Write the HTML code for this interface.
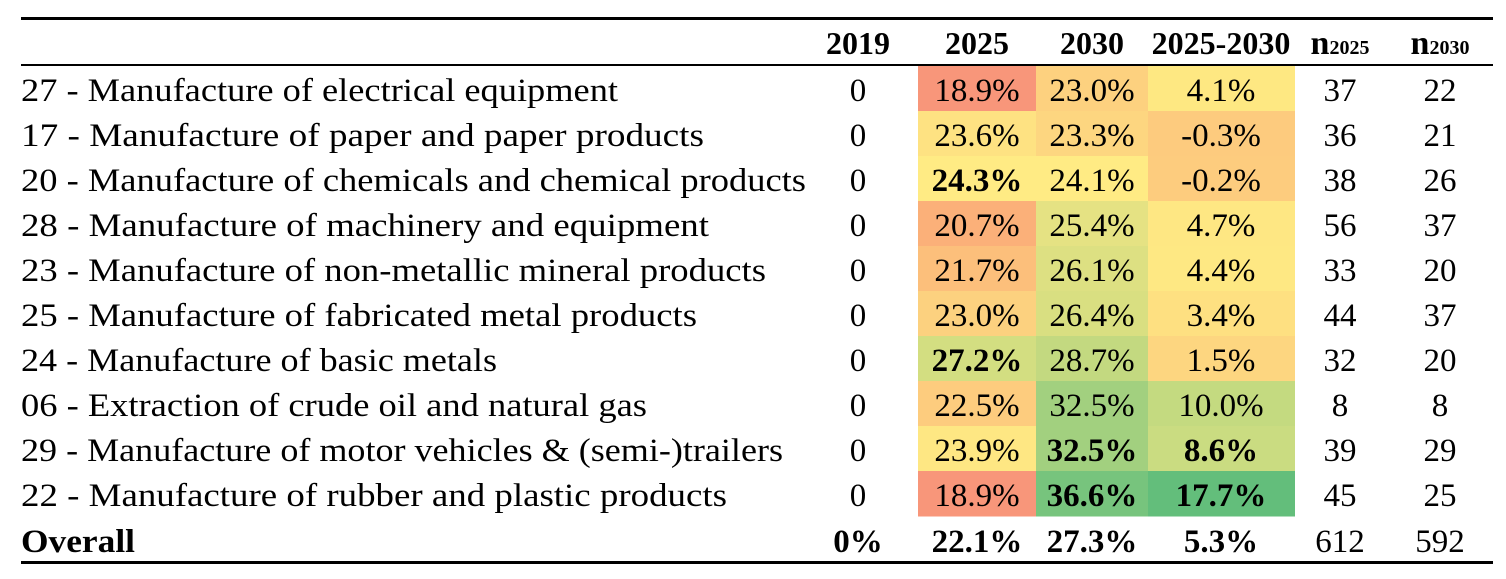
<!DOCTYPE html>
<html><head><meta charset="utf-8"><style>
html,body{margin:0;padding:0;background:#fff;}
svg{display:block;font-family:"Liberation Serif",serif;}
</style></head><body>
<svg id="tbl" width="1506" height="579" viewBox="0 0 1506 579" xmlns="http://www.w3.org/2000/svg"></svg>
<script>
const sectors=["27 - Manufacture of electrical equipment","17 - Manufacture of paper and paper products","20 - Manufacture of chemicals and chemical products","28 - Manufacture of machinery and equipment","23 - Manufacture of non-metallic mineral products","25 - Manufacture of fabricated metal products","24 - Manufacture of basic metals","06 - Extraction of crude oil and natural gas","29 - Manufacture of motor vehicles & (semi-)trailers","22 - Manufacture of rubber and plastic products"];
const v2019=[0,0,0,0,0,0,0,0,0,0];
const v2025=[18.9,23.6,24.3,20.7,21.7,23.0,27.2,22.5,23.9,18.9];
const v2030=[23.0,23.3,24.1,25.4,26.1,26.4,28.7,32.5,32.5,36.6];
const vDiff=[4.1,-0.3,-0.2,4.7,4.4,3.4,1.5,10.0,8.6,17.7];
const n2025=[37,36,38,56,33,44,32,8,39,45];
const n2030=[22,21,26,37,20,37,20,8,29,25];
const bold2025=[false,false,true,false,false,false,true,false,false,false];
const bold2030=[false,false,false,false,false,false,false,false,true,true];
const boldDiff=[false,false,false,false,false,false,false,false,true,true];
const overall=["0%","22.1%","27.3%","5.3%","612","592"];
const c2025=["#F8967A","#FEE282","#FFEB84","#FBB079","#FCBF7B","#FCD17F","#D3DE81","#FDCC7E","#FEE783","#F8967A"];
const c2030=["#FDD17F","#FDD680","#FFEB84","#E5E283","#DDE082","#D9DF81","#C3D980","#A2D07F","#A2D07F","#77C47D"];
const cDiff=["#FEE882","#FDCB7E","#FDCC7E","#FEE783","#FEE883","#FEE081","#FDD680","#C4DA80","#CADC81","#63BE7B"];
// label right edges (layout)
const labelEnd=[618,704,806,709,766,697,497,647,783,727];

const svg=document.getElementById('tbl');
const NS="http://www.w3.org/2000/svg";
const rowTop=i=>66+45*i, rowH=45;
const colX={c2019:858,c2025:977,c2030:1092,cDiff:1221,n25:1340,n30:1440};
function txt(x,y,s,anchor,bold,size){
  const t=document.createElementNS(NS,'text');
  t.setAttribute('x',x);t.setAttribute('y',y);
  t.setAttribute('text-anchor',anchor);
  t.setAttribute('font-size',size||34);
  if(bold)t.setAttribute('font-weight','bold');
  t.textContent=s;svg.appendChild(t);return t;
}
function rect(x,y,w,h,f){
  const r=document.createElementNS(NS,'rect');
  r.setAttribute('x',x);r.setAttribute('y',y);r.setAttribute('width',w);r.setAttribute('height',h);r.setAttribute('fill',f);
  svg.appendChild(r);return r;
}
let r;
r=rect(21,17,1472,3,'#000');


r=rect(21,64,1472,2,'#000');


r=rect(21,561,1472,3,'#000');


const hy=54, NF=33;
let t;
t=txt(colX.c2019,hy,"2019",'middle',true,32);


t=txt(colX.c2025,hy,"2025",'middle',true,32);


t=txt(colX.c2030,hy,"2030",'middle',true,32);


t=txt(colX.cDiff,hy,"2025-2030",'middle',true,32);


[["n25","2025"],["n30","2030"]].forEach(([k,y])=>{
  const tt=document.createElementNS(NS,'text');
  tt.setAttribute('x',colX[k]);tt.setAttribute('y',hy);tt.setAttribute('text-anchor','middle');
  tt.setAttribute('font-weight','bold');tt.setAttribute('font-size',34);
  
  
  const a=document.createElementNS(NS,'tspan');a.textContent='n';
  const b=document.createElementNS(NS,'tspan');b.setAttribute('font-size',20);b.textContent=y;
  tt.appendChild(a);tt.appendChild(b);svg.appendChild(tt);
});
sectors.forEach((s,i)=>{
  const y=rowTop(i), by=y+35;
  let c;
  c=rect(918,y,118,rowH+0.5,c2025[i]);
  
  
  c=rect(1036,y,112,rowH+0.5,c2030[i]);
  
  
  c=rect(1148,y,147,rowH+0.5,cDiff[i]);
  
  
  const lab=txt(21,by,s,'start',false,33);
  lab.setAttribute('textLength', labelEnd[i]-21);
  lab.setAttribute('lengthAdjust','spacingAndGlyphs');
  
  
  t=txt(colX.c2019,by,String(v2019[i]),'middle',false,NF);
  
  
  t=txt(colX.c2025,by,v2025[i].toFixed(1)+'%','middle',bold2025[i],NF);
  
  
  t=txt(colX.c2030,by,v2030[i].toFixed(1)+'%','middle',bold2030[i],NF);
  
  
  t=txt(colX.cDiff,by,vDiff[i].toFixed(1)+'%','middle',boldDiff[i],NF);
  
  
  t=txt(colX.n25,by,String(n2025[i]),'middle',false,NF);
  
  
  t=txt(colX.n30,by,String(n2030[i]),'middle',false,NF);
  
  
});
const oy=rowTop(10)+36;
t=txt(21,oy,"Overall",'start',true,33);
t.setAttribute('textLength',114);
t.setAttribute('lengthAdjust','spacingAndGlyphs');


const ok=["c2019","c2025","c2030","cDiff","n25","n30"];
overall.forEach((s,j)=>{
  const tt=txt(colX[ok[j]],oy,s,'middle',j<4,NF);
  
  
});
</script>
</body></html>
